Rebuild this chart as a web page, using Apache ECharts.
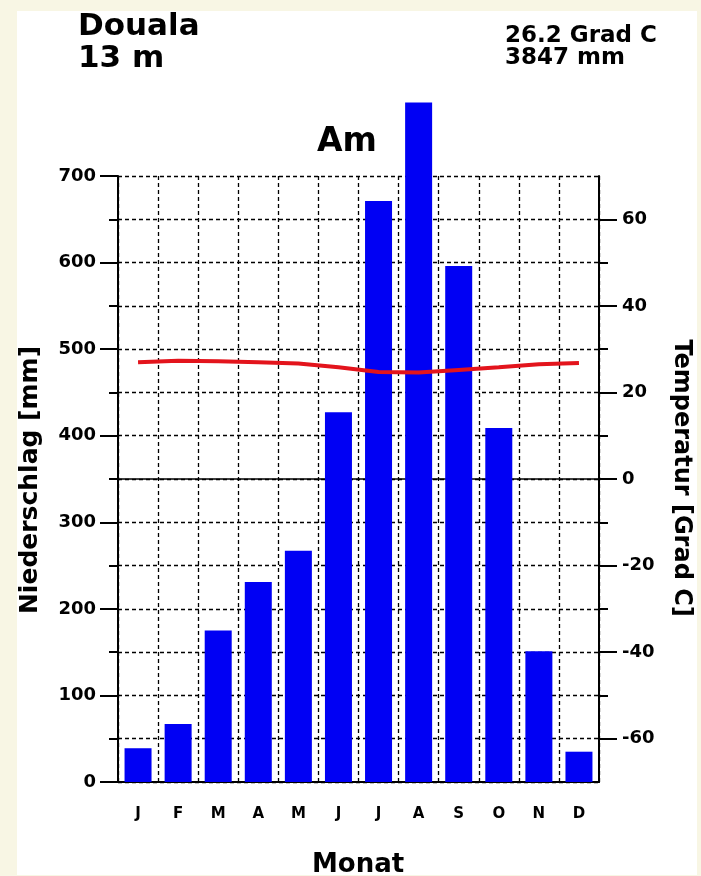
<!DOCTYPE html>
<html>
<head>
<meta charset="utf-8">
<script src="https://cdn.jsdelivr.net/npm/echarts@6/dist/echarts.min.js"></script>
<style>
  html, body { margin: 0; padding: 0; background: #f8f6e4; }
  #paper { position: absolute; left: 17px; top: 11px; width: 680px; height: 864px; background: #ffffff; }
  #chart { position: absolute; left: 0; top: 0; width: 701px; height: 876px; }
</style>
</head>
<body>
<div id="paper"></div>
<div id="chart"></div>
<script>
// ---- data ----
var months = ['J', 'F', 'M', 'A', 'M', 'J', 'J', 'A', 'S', 'O', 'N', 'D'];
var precipitation = [39, 67, 175, 231, 267, 427, 671, 785, 596, 409, 151, 35];
var temperature = [27.0, 27.3, 27.2, 27.0, 26.7, 25.8, 24.7, 24.6, 25.2, 25.8, 26.5, 26.8];
var precipTicks = [0, 100, 200, 300, 400, 500, 600, 700];
var tempMajorTicks = [-60, -40, -20, 0, 20, 40, 60];
var tempMinorTicks = [-50, -30, -10, 10, 30, 50];
var stationName = 'Douala';
var stationHeight = '13 m';
var meanTemp = '26.2 Grad C';
var totalPrecip = '3847 mm';
var climateClass = 'Am';

var FONT = '"DejaVu Sans", "Liberation Sans", sans-serif';
var chart = echarts.init(document.getElementById('chart'), null, { renderer: 'canvas' });

var dashed = { color: '#000', width: 1.3, type: [4, 3] };

chart.setOption({
  backgroundColor: 'transparent',
  animation: false,
  grid: { left: 118, right: 102, top: 176, bottom: 94 },
  xAxis: {
    type: 'category',
    data: months,
    boundaryGap: true,
    axisLine: { show: true, lineStyle: { color: '#000', width: 2 } },
    axisTick: { show: false },
    axisLabel: { color: '#000', fontFamily: FONT, fontWeight: 'bold', fontSize: 15, margin: 25 },
    splitLine: { show: true, interval: 0, lineStyle: dashed }
  },
  yAxis: [
    {
      type: 'value',
      position: 'left',
      min: precipTicks[0],
      max: precipTicks[precipTicks.length - 1],
      interval: 100,
      axisLine: { show: true, lineStyle: { color: '#000', width: 2 } },
      axisTick: { show: true, length: 18, lineStyle: { color: '#000', width: 2 } },
      minorTick: { show: true, splitNumber: 2, length: 9, lineStyle: { color: '#000', width: 2 } },
      axisLabel: { color: '#000', fontFamily: FONT, fontWeight: 'bold', fontSize: 18, margin: 22 },
      splitLine: { show: true, lineStyle: dashed },
      minorSplitLine: { show: true, lineStyle: dashed }
    },
    {
      type: 'value',
      position: 'right',
      min: -70,
      max: 70,
      interval: 10,
      axisLine: { show: true, lineStyle: { color: '#000', width: 2 } },
      axisTick: { show: true, length: 18, customValues: tempMajorTicks, lineStyle: { color: '#000', width: 2 } },
      axisLabel: { show: true, customValues: tempMajorTicks, color: '#000', fontFamily: FONT, fontWeight: 'bold', fontSize: 18, margin: 23 },
      splitLine: { show: false }
    },
    {
      type: 'value',
      position: 'right',
      min: -70,
      max: 70,
      interval: 10,
      axisLine: { show: false },
      axisTick: { show: true, length: 9, customValues: tempMinorTicks, lineStyle: { color: '#000', width: 2 } },
      axisLabel: { show: false },
      splitLine: { show: false }
    }
  ],
  series: [
    {
      type: 'bar',
      data: precipitation,
      yAxisIndex: 0,
      barWidth: 27,
      clip: false,
      itemStyle: { color: '#0000f4' },
      z: 3
    },
    {
      type: 'line',
      data: temperature,
      yAxisIndex: 1,
      symbol: 'none',
      lineStyle: { color: '#e3141c', width: 4 },
      z: 5,
      markLine: {
        silent: true,
        symbol: 'none',
        label: { show: false },
        lineStyle: { color: '#000', width: 1.5, type: 'solid' },
        data: [{ yAxis: 0 }],
        z: 2
      }
    }
  ],
  graphic: [
    { type: 'text', x: 78, y: 27, style: { text: stationName, font: 'bold 31px ' + FONT, fill: '#000', verticalAlign: 'middle', align: 'left' } },
    { type: 'text', x: 78, y: 59, style: { text: stationHeight, font: 'bold 31px ' + FONT, fill: '#000', verticalAlign: 'middle', align: 'left' } },
    { type: 'text', x: 505, y: 36, style: { text: meanTemp, font: 'bold 23px ' + FONT, fill: '#000', verticalAlign: 'middle', align: 'left' } },
    { type: 'text', x: 505, y: 58, style: { text: totalPrecip, font: 'bold 23px ' + FONT, fill: '#000', verticalAlign: 'middle', align: 'left' } },
    { type: 'text', x: 347, y: 142, style: { text: climateClass, font: 'bold 33px ' + FONT, fill: '#000', verticalAlign: 'middle', align: 'center' } },
    { type: 'text', x: 30, y: 480, rotation: Math.PI / 2, style: { text: 'Niederschlag [mm]', font: 'bold 25px ' + FONT, fill: '#000', verticalAlign: 'middle', align: 'center' } },
    { type: 'text', x: 681, y: 478, rotation: -Math.PI / 2, style: { text: 'Temperatur [Grad C]', font: 'bold 24px ' + FONT, fill: '#000', verticalAlign: 'middle', align: 'center' } },
    { type: 'text', x: 358, y: 865, style: { text: 'Monat', font: 'bold 26px ' + FONT, fill: '#000', verticalAlign: 'middle', align: 'center' } }
  ]
});
</script>
</body>
</html>
